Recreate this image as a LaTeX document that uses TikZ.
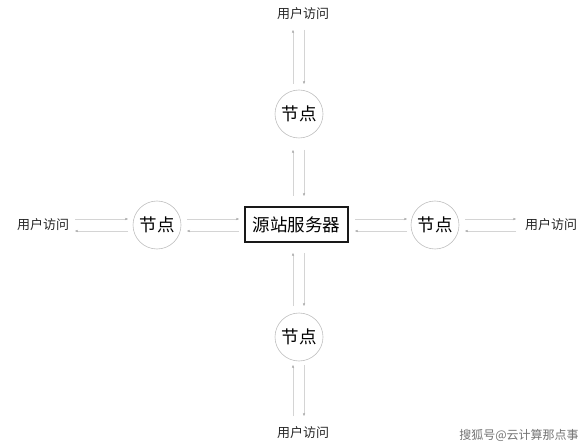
\documentclass[tikz,border=0pt]{standalone}
\usepackage{fontspec}
\setmainfont{Noto Sans CJK SC}
\usetikzlibrary{arrows.meta}
\begin{document}
\begin{tikzpicture}[x=1pt,y=-1pt,
  lbl/.style={font=\fontsize{13}{13}\selectfont, text=black!85, inner sep=0pt},
  nd/.style={circle, draw=black!25, line width=0.6pt, minimum size=48pt, inner sep=0pt, font=\fontsize{17.5}{17.5}\selectfont},
  srv/.style={draw=black!90, line width=1.6pt, minimum width=103pt, minimum height=35pt, inner sep=0pt, font=\fontsize{17.5}{17.5}\selectfont},
  arr/.style={draw=black!17, line width=0.5pt, -{Stealth[length=3pt,width=2.2pt,color=black!40]}},
  wm/.style={font=\fontsize{12}{12}\selectfont, text=black!55, inner sep=0pt}
]
\useasboundingbox (0,0) rectangle (588,443);

% nodes
\node[srv] (srv) at (296.5,224.5) {源站服务器};
\node[nd] (nt) at (299,114) {节点};
\node[nd] (nb) at (299,337) {节点};
\node[nd] (nl) at (157,225) {节点};
\node[nd] (nr) at (435,225) {节点};
\node[lbl] (ut) at (303,14) {用户访问};
\node[lbl] (ub) at (303,433) {用户访问};
\node[lbl] (ul) at (43,225) {用户访问};
\node[lbl] (ur) at (551,225) {用户访问};
\node[wm] (wmk) at (519,435) {搜狐号@云计算那点事};

% vertical connector end points
\coordinate (a1) at (293,30);  \coordinate (a2) at (293,84);
\coordinate (b1) at (304,30);  \coordinate (b2) at (304,84);
\coordinate (c1) at (293,150); \coordinate (c2) at (293,196);
\coordinate (d1) at (304,150); \coordinate (d2) at (304,196);
\coordinate (e1) at (293,253); \coordinate (e2) at (293,306);
\coordinate (f1) at (304,253); \coordinate (f2) at (304,306);
\coordinate (g1) at (293,365); \coordinate (g2) at (293,416);
\coordinate (h1) at (304,365); \coordinate (h2) at (304,416);
% horizontal connector end points
\coordinate (i1) at (75,219);  \coordinate (i2) at (128,219);
\coordinate (j1) at (75,231);  \coordinate (j2) at (128,231);
\coordinate (k1) at (187,219); \coordinate (k2) at (239,219);
\coordinate (l1) at (187,231); \coordinate (l2) at (239,231);
\coordinate (m1) at (355,219); \coordinate (m2) at (407,219);
\coordinate (n1) at (355,231); \coordinate (n2) at (407,231);
\coordinate (o1) at (465,219); \coordinate (o2) at (516,219);
\coordinate (p1) at (465,231); \coordinate (p2) at (516,231);

% vertical connectors: left goes up, right goes down
\draw[arr] (a2) -- (a1);
\draw[arr] (b1) -- (b2);
\draw[arr] (c2) -- (c1);
\draw[arr] (d1) -- (d2);
\draw[arr] (e2) -- (e1);
\draw[arr] (f1) -- (f2);
\draw[arr] (g2) -- (g1);
\draw[arr] (h1) -- (h2);
% horizontal connectors: upper goes right, lower goes left
\draw[arr] (i1) -- (i2);
\draw[arr] (j2) -- (j1);
\draw[arr] (k1) -- (k2);
\draw[arr] (l2) -- (l1);
\draw[arr] (m1) -- (m2);
\draw[arr] (n2) -- (n1);
\draw[arr] (o1) -- (o2);
\draw[arr] (p2) -- (p1);
\end{tikzpicture}
\end{document}
